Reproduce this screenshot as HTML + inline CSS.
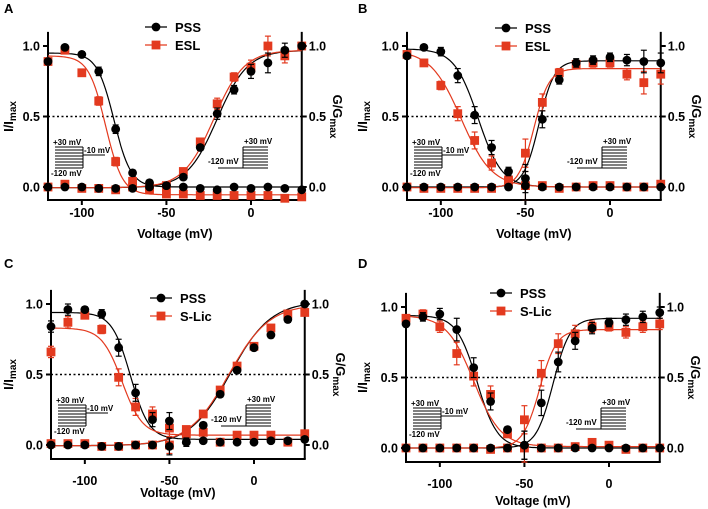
<!DOCTYPE html>
<html><head><meta charset="utf-8"><style>
body{margin:0;background:#fff;}
svg{display:block;font-family:"Liberation Sans",Arial,sans-serif;font-weight:bold;}
</style></head><body>
<svg id="fig" width="708" height="509" viewBox="0 0 708 509" xmlns="http://www.w3.org/2000/svg"></svg>
<script>
const voltages=[-120,-110,-100,-90,-80,-70,-60,-50,-40,-30,-20,-10,0,10,20,30];
const xTicks=[-100,-50,0];
const yTicks=[0,0.5,1];
const yTickLabels=["0.0","0.5","1.0"];
const panelLetters=["A","B","C","D"];
const drugNames=["ESL","ESL","S-Lic","S-Lic"];
// Panel A
const aPssInact=[0.89,0.99,0.94,0.82,0.41,0.10,0.03,0.01,0.00,-0.01,-0.02,0.00,-0.01,0.00,-0.01,-0.02];
const aPssAct=[0,0,0,-0.01,-0.01,-0.01,0.00,0.01,0.07,0.28,0.52,0.69,0.82,0.88,0.97,1.00];
const aDrugInact=[0.89,0.97,0.81,0.61,0.18,0.04,-0.02,-0.05,-0.05,-0.06,-0.06,-0.06,-0.06,-0.06,-0.08,-0.07];
const aDrugAct=[0,0.02,-0.01,-0.01,-0.02,0,0,0.01,0.11,0.32,0.59,0.78,0.85,1.00,0.93,1.00];
const aErr=[0.01,0.01,0.02,0.03,0.03,0.02,0.01,0.01,0.02,0.02,0.04,0.03,0.05,0.07,0.05,0.02];
// Panel B
const bPssInact=[0.93,0.99,0.96,0.79,0.51,0.28,0.11,0.06,0,0,0,0,0,0,0,0];
const bPssAct=[0,0,0,0,0,0,0,0.01,0.48,0.76,0.88,0.90,0.92,0.90,0.89,0.88];
const bDrugInact=[0.94,0.88,0.72,0.52,0.33,0.17,0.05,0.01,0.01,-0.01,0,0.01,0.01,0,0,0.02];
const bDrugAct=[0,-0.01,-0.01,-0.01,-0.01,-0.01,0.04,0.24,0.60,0.81,0.87,0.88,0.88,0.80,0.74,0.80];
const bErr=[0.02,0.01,0.03,0.05,0.06,0.05,0.03,0.1,0.06,0.03,0.03,0.03,0.03,0.04,0.08,0.07];
// Panel C
const cPssInact=[0.84,0.96,0.96,0.93,0.69,0.37,0.18,0.17,0.02,0.03,0.02,0.02,0.02,0.03,0.03,0.04];
const cPssAct=[0,0,0,-0.01,-0.01,0,0,-0.01,0.02,0.14,0.36,0.53,0.69,0.78,0.89,1.00];
const cDrugInact=[0.66,0.87,0.92,0.82,0.48,0.27,0.22,0.12,0.11,0.09,0.02,0.07,0.07,0.07,0.02,0.08];
const cDrugAct=[0.01,0.01,0.01,-0.01,-0.01,0,0,0,0.08,0.22,0.39,0.56,0.70,0.83,0.93,0.94];
const cErr=[0.04,0.04,0.02,0.03,0.06,0.06,0.05,0.06,0.03,0.02,0.02,0.02,0.02,0.02,0.02,0.02];
// Panel D
const dPssInact=[0.88,0.93,0.95,0.84,0.57,0.33,0.13,0.02,0,0,0,0,0,0,0,0];
const dPssAct=[0,0,0,0,0,0,0,0.02,0.32,0.61,0.76,0.85,0.89,0.91,0.93,0.96];
const dDrugInact=[0.92,0.95,0.86,0.67,0.51,0.38,0.10,0.00,0,0,0.01,0.04,0.02,-0.01,0,0];
const dDrugAct=[0,0,0,0,0,-0.01,0,0.20,0.53,0.74,0.81,0.86,0.86,0.82,0.86,0.88];
const dErr=[0.02,0.03,0.04,0.08,0.07,0.06,0.02,0.1,0.09,0.07,0.06,0.04,0.03,0.04,0.04,0.04];
// Boltzmann fit parameters: [top, bottom, vHalf, k]
const fitPssInact=[[0.95,0,-81,5],[0.98,0,-78,7],[0.94,0.04,-73,5.5],[0.94,0,-78,6]];
const fitDrugInact=[[0.93,-0.055,-86,5],[0.97,0,-88,9],[0.83,0.07,-78,6],[0.94,0.01,-80,8]];
const fitPssAct=[[0.97,-0.005,-20,9],[0.895,0,-42,4.5],[1.02,-0.005,-14,12],[0.92,0,-33,5]];
const fitDrugAct=[[0.97,-0.005,-22,9],[0.84,-0.005,-45,4.5],[1.0,-0.005,-15,12],[0.84,0,-41,5]];

const panelData=[
 [aPssInact,aPssAct,aDrugInact,aDrugAct,aErr],
 [bPssInact,bPssAct,bDrugInact,bDrugAct,bErr],
 [cPssInact,cPssAct,cDrugInact,cDrugAct,cErr],
 [dPssInact,dPssAct,dDrugInact,dDrugAct,dErr]];
const layout=[
 {xl:48,x0:251,y0:187,y1:46,yb:200,tl:217,tt:238,ox:0,oy:0,lgy:27,lgx:145},
 {xl:407,x0:610,y0:187,y1:46,yb:200,tl:217,tt:238,ox:354,oy:0,lgy:28,lgx:495},
 {xl:51,x0:254,y0:445,y1:304,yb:459,tl:485,tt:497,ox:0,oy:255,lgy:298,lgx:150},
 {xl:406,x0:609,y0:448,y1:307,yb:462,tl:488,tt:505,ox:354,oy:255,lgy:293,lgx:490}];
const RED="#e33a1f";
const svg=document.getElementById('fig');
const NS="http://www.w3.org/2000/svg";
function mk(tag,attrs,parent){const e=document.createElementNS(NS,tag);for(const k in attrs)e.setAttribute(k,attrs[k]);(parent||svg).appendChild(e);return e;}
function txt(s,attrs,parent){const e=mk('text',attrs,parent);e.textContent=s;return e;}
function boltzInact(p,v){return p[1]+(p[0]-p[1])/(1+Math.exp((v-p[2])/p[3]));}
function boltzAct(p,v){return p[1]+(p[0]-p[1])/(1+Math.exp((p[2]-v)/p[3]));}

layout.forEach((L,pi)=>{
 const g=mk('g',{});
 
 
 const pxmv=(L.x0-L.xl)/120;
 const X=v=>L.x0+v*pxmv;
 const Y=y=>L.y0-(L.y0-L.y1)*y;
 const xr=X(30);
 const lt=txt(panelLetters[pi],{x:L.ox+4,y:L.oy+13,'font-size':13},g);
 
 
 const ax=mk('g',{stroke:'#000','stroke-width':2,fill:'none'},g);
 
 
 mk('line',{x1:L.xl,y1:Y(1.1),x2:L.xl,y2:L.yb},ax);
 mk('line',{x1:xr,y1:Y(1.1),x2:xr,y2:L.yb},ax);
 mk('line',{x1:L.xl-1,y1:L.yb,x2:xr+1,y2:L.yb},ax);
 xTicks.forEach(t=>{mk('line',{x1:X(t),y1:L.yb,x2:X(t),y2:L.yb+5},ax);
  const e=txt(String(t),{x:X(t),y:L.tl,'text-anchor':'middle','font-size':12.5},g);
  
  });
 yTicks.forEach((t,i)=>{mk('line',{x1:L.xl-5,y1:Y(t),x2:L.xl,y2:Y(t)},ax);mk('line',{x1:xr,y1:Y(t),x2:xr+5,y2:Y(t)},ax);
  const e1=txt(yTickLabels[i],{x:L.xl-8,y:Y(t)+4.5,'text-anchor':'end','font-size':12.5},g);
  
  
  const e2=txt(yTickLabels[i],{x:xr+7,y:Y(t)+4.5,'font-size':12.5},g);
  
  });
 mk('line',{x1:L.xl,y1:Y(0.5),x2:xr,y2:Y(0.5),stroke:'#000','stroke-width':1.5,'stroke-dasharray':'2,2.5'},g);
 const xt=txt('Voltage (mV)',{x:(L.xl+xr)/2,y:L.tt,'text-anchor':'middle','font-size':12.5},g);
 
 
 const ym=Y(0.5);
 const yt=mk('text',{transform:`translate(${L.ox+13},${ym}) rotate(-90)`,'text-anchor':'middle','font-size':13},g);
 yt.innerHTML='I/I<tspan font-size="10" dy="3">max</tspan>';
 
 
 const yt2=mk('text',{transform:`translate(${xr+31},${ym}) rotate(90)`,'text-anchor':'middle','font-size':13},g);
 yt2.innerHTML='G/G<tspan font-size="10" dy="3">max</tspan>';
 
 
 const ins=mk('g',{stroke:'#000','stroke-width':1},g);
 
 
 const a=L.xl,b=L.y0;
 for(let i=0;i<8;i++){const yy=b-40+i*3;mk('line',{x1:a+7,y1:yy,x2:a+35,y2:yy},ins);}
 mk('line',{x1:a+35,y1:b-40,x2:a+35,y2:b-19},ins);
 mk('line',{x1:a+35,y1:b-32,x2:a+57,y2:b-32},ins);
 txt('+30 mV',{x:a+5,y:b-42,'font-size':8,stroke:'none'},ins);
 txt('-10 mV',{x:a+36,y:b-34,'font-size':8,stroke:'none'},ins);
 txt('-120 mV',{x:a+3,y:b-11,'font-size':8,stroke:'none'},ins);
 for(let i=0;i<8;i++){const yy=b-40+i*3;mk('line',{x1:a+195,y1:yy,x2:a+220,y2:yy},ins);}
 mk('line',{x1:a+195,y1:b-40,x2:a+195,y2:b-19},ins);
 mk('line',{x1:a+170,y1:b-19,x2:a+220,y2:b-19},ins);
 txt('+30 mV',{x:a+196,y:b-43,'font-size':8,stroke:'none'},ins);
 txt('-120 mV',{x:a+160,y:b-23,'font-size':8,stroke:'none'},ins);
 const D=panelData[pi];
 const fits=[[fitPssInact[pi],boltzInact,'#000'],[fitPssAct[pi],boltzAct,'#000'],[fitDrugInact[pi],boltzInact,RED],[fitDrugAct[pi],boltzAct,RED]];
 fits.forEach(([p,f,c])=>{let d='';for(let v=-120;v<=30;v+=1){d+=(v===-120?'M':'L')+X(v).toFixed(1)+','+Y(f(p,v)).toFixed(1);}
  const pth=mk('path',{d:d,fill:'none',stroke:c,'stroke-width':1.2},g);
  
  });
 const err=D[4];
 const series=[[D[0],'#000','circle'],[D[1],'#000','circle'],[D[2],RED,'square'],[D[3],RED,'square']];
 [2,3,0,1].forEach(si=>{const [vals,c,shape]=series[si];
  vals.forEach((y,i)=>{const cx=X(voltages[i]),cy=Y(y);const e=(si%2===0?(i<8?err[i]:0.01):(i>=7?err[i]:0.01))*(L.y0-L.y1);
   mk('line',{x1:cx,y1:cy-e,x2:cx,y2:cy+e,stroke:c,'stroke-width':1.2},g);
   mk('line',{x1:cx-3,y1:cy-e,x2:cx+3,y2:cy-e,stroke:c,'stroke-width':1.2},g);
   mk('line',{x1:cx-3,y1:cy+e,x2:cx+3,y2:cy+e,stroke:c,'stroke-width':1.2},g);
   let m;
   if(shape==='circle'){m=mk('circle',{cx:cx,cy:cy,r:4.4,fill:c},g);}
   else{m=mk('rect',{x:cx-4.4,y:cy-4.4,width:8.8,height:8.8,fill:c},g);}
   
   });});
 const lx=L.lgx, ly=L.lgy;
 const lg=mk('g',{},g);
 
 
 mk('line',{x1:lx,y1:ly,x2:lx+22,y2:ly,stroke:'#000','stroke-width':1.2},lg);
 mk('circle',{cx:lx+11,cy:ly,r:4.4,fill:'#000'},lg);
 txt('PSS',{x:lx+30,y:ly+5,'font-size':13},lg);
 mk('line',{x1:lx,y1:ly+18,x2:lx+22,y2:ly+18,stroke:RED,'stroke-width':1.2},lg);
 mk('rect',{x:lx+6.6,y:ly+13.6,width:8.8,height:8.8,fill:RED},lg);
 txt(drugNames[pi],{x:lx+30,y:ly+23,'font-size':13},lg);
});
</script>
</body></html>
